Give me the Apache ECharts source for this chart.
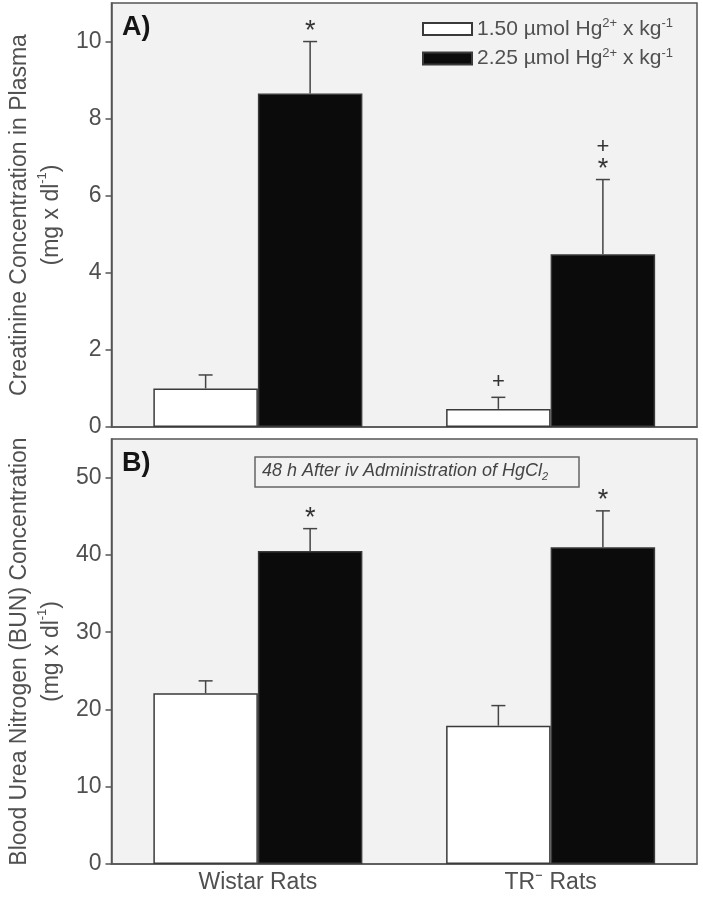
<!DOCTYPE html>
<html>
<head>
<meta charset="utf-8">
<style>
  html, body { margin: 0; padding: 0; background: #fff; }
  #chart { width: 703px; height: 900px; }
</style>
<script src="https://cdn.jsdelivr.net/npm/echarts@6/dist/echarts.min.js"></script>
</head>
<body>
<div id="chart"></div>
<script>
// categories and doses
const groups = ['Wistar Rats', 'TR\u207B Rats']
const doses = ['1.50', '2.25']

// panel A: creatinine (mg x dl-1), mean and SD
const creatLow = [1.0, 0.47]
const creatLowErr = [0.35, 0.3]
const creatHigh = [8.65, 4.48]
const creatHighErr = [1.35, 1.94]
const creatLowMarks = [[], ['+']]
const creatHighMarks = [['*'], ['*', '+']]

// panel B: BUN (mg x dl-1), mean and SD
const bunLow = [22.1, 17.9]
const bunLowErr = [1.6, 2.6]
const bunHigh = [40.5, 41.0]
const bunHighErr = [2.9, 4.7]
const bunLowMarks = [[], []]
const bunHighMarks = [['*'], ['*']]

const creatTicks = [0, 2, 4, 6, 8, 10]
const bunTicks = [0, 10, 20, 30, 40, 50]

const FONT = "'Liberation Sans', Arial, sans-serif"
const GREY = '#505050'
const BAR_FRAC = 0.357

const chart = echarts.init(document.getElementById('chart'))

function errorBars(side, errs, marks) {
  return function (params, api) {
    const i = params.dataIndex
    const cat = api.value(0)
    const val = api.value(1)
    const band = api.size([1, 0])[0]
    const dx = side * band * BAR_FRAC / 2
    const base = api.coord([cat, val])
    const tip = api.coord([cat, val + errs[i]])
    const x = base[0] + dx
    const lineStyle = { stroke: '#444', lineWidth: 1.5 }
    const children = [
      { type: 'line', shape: { x1: x, y1: base[1], x2: x, y2: tip[1] }, style: lineStyle },
      { type: 'line', shape: { x1: x - 7, y1: tip[1], x2: x + 7, y2: tip[1] }, style: lineStyle }
    ]
    marks[i].forEach(function (m, k) {
      const size = m === '*' ? 27 : 22
      const shift = m === '*' ? 5 : 0
      children.push({
        type: 'text',
        style: {
          text: m,
          x: x,
          y: tip[1] - 15 - k * 18 + shift,
          align: 'center',
          verticalAlign: 'middle',
          font: size + 'px ' + FONT,
          fill: '#333'
        }
      })
    })
    return { type: 'group', children: children }
  }
}

function barSeries(name, values, xi, color) {
  return {
    name: name,
    type: 'bar',
    xAxisIndex: xi,
    yAxisIndex: xi,
    data: values,
    barWidth: (BAR_FRAC * 100) + '%',
    barGap: '0%',
    itemStyle: { color: color, borderColor: '#3a3a3a', borderWidth: 1.5 },
    emphasis: { disabled: true }
  }
}

function errSeries(values, errs, marks, side, xi) {
  return {
    type: 'custom',
    xAxisIndex: xi,
    yAxisIndex: xi,
    z: 5,
    silent: true,
    renderItem: errorBars(side, errs, marks),
    data: values.map(function (v, i) { return [i, v] })
  }
}

const yName = function (first) {
  return '{t|' + first + '}\n{t|(mg x dl}{sup|-1}{t|)}'
}

const nameStyle = {
  color: GREY,
  fontFamily: FONT,
  rich: {
    t: { fontSize: 23, lineHeight: 32, fontFamily: FONT, color: GREY },
    sup: { fontSize: 13, lineHeight: 20, verticalAlign: 'top', fontFamily: FONT, color: GREY }
  }
}

function yAxis(gi, max, step, ticks, first) {
  return {
    gridIndex: gi,
    type: 'value',
    min: 0,
    max: max,
    interval: step,
    name: yName(first),
    nameLocation: 'middle',
    nameRotate: 90,
    nameGap: 44,
    nameTextStyle: nameStyle,
    axisLine: { show: true, lineStyle: { color: '#555', width: 1.5 } },
    axisTick: { show: true, length: 6, lineStyle: { color: '#555', width: 1.5 }, customValues: ticks },
    axisLabel: { fontSize: 23, fontFamily: FONT, color: GREY, margin: 10, customValues: ticks },
    splitLine: { show: false }
  }
}

const option = {
  animation: false,
  backgroundColor: '#ffffff',
  title: [
    { text: 'A)', left: 117, top: 9, textStyle: { fontSize: 27, fontWeight: 'bold', fontFamily: FONT, color: '#151515' } },
    { text: 'B)', left: 117, top: 445, textStyle: { fontSize: 27, fontWeight: 'bold', fontFamily: FONT, color: '#151515' } },
    {
      text: '{i|48 h After iv Administration of HgCl}{sub|2}',
      left: 255,
      top: 455,
      padding: [5, 31, 5, 7],
      borderColor: '#666',
      borderWidth: 1.5,
      backgroundColor: '#f2f2f2',
      textStyle: {
        fontWeight: 'normal',
        rich: {
          i: { fontSize: 18, fontStyle: 'italic', fontWeight: 'normal', lineHeight: 22, fontFamily: FONT, color: '#444' },
          sub: { fontSize: 11, fontStyle: 'italic', fontWeight: 'normal', lineHeight: 12, verticalAlign: 'bottom', fontFamily: FONT, color: '#444' }
        }
      }
    }
  ],
  legend: {
    data: doses,
    orient: 'vertical',
    left: 417,
    top: 12,
    itemWidth: 49,
    itemHeight: 12,
    itemGap: 7,
    icon: 'rect',
    selectedMode: false,
    formatter: function (n) { return '{t|' + n + ' \u00B5mol Hg}{sup|2+}{t| x kg}{sup|-1}' },
    textStyle: {
      color: GREY,
      rich: {
        t: { fontSize: 21, lineHeight: 24, fontFamily: FONT, color: GREY },
        sup: { fontSize: 13, lineHeight: 14, verticalAlign: 'top', fontFamily: FONT, color: GREY }
      }
    }
  },
  grid: [
    { left: 109, right: 6, top: 3, height: 424, show: true, backgroundColor: '#f2f2f2', borderColor: '#555', borderWidth: 1.5 },
    { left: 109, right: 6, top: 439, height: 425, show: true, backgroundColor: '#f2f2f2', borderColor: '#555', borderWidth: 1.5 }
  ],
  xAxis: [
    {
      gridIndex: 0,
      type: 'category',
      data: groups,
      axisLine: { lineStyle: { color: '#555', width: 1.5 } },
      axisTick: { show: false },
      axisLabel: { show: false }
    },
    {
      gridIndex: 1,
      type: 'category',
      data: groups,
      axisLine: { lineStyle: { color: '#555', width: 1.5 } },
      axisTick: { show: false },
      axisLabel: { fontSize: 23, fontFamily: FONT, color: GREY, margin: 7 }
    }
  ],
  yAxis: [
    yAxis(0, 11, 2, creatTicks, 'Creatinine Concentration in Plasma'),
    yAxis(1, 55, 10, bunTicks, 'Blood Urea Nitrogen (BUN) Concentration')
  ],
  series: [
    barSeries(doses[0], creatLow, 0, '#ffffff'),
    barSeries(doses[1], creatHigh, 0, '#0b0b0b'),
    errSeries(creatLow, creatLowErr, creatLowMarks, -1, 0),
    errSeries(creatHigh, creatHighErr, creatHighMarks, 1, 0),
    barSeries(doses[0], bunLow, 1, '#ffffff'),
    barSeries(doses[1], bunHigh, 1, '#0b0b0b'),
    errSeries(bunLow, bunLowErr, bunLowMarks, -1, 1),
    errSeries(bunHigh, bunHighErr, bunHighMarks, 1, 1)
  ]
}

chart.setOption(option)
</script>
</body>
</html>
